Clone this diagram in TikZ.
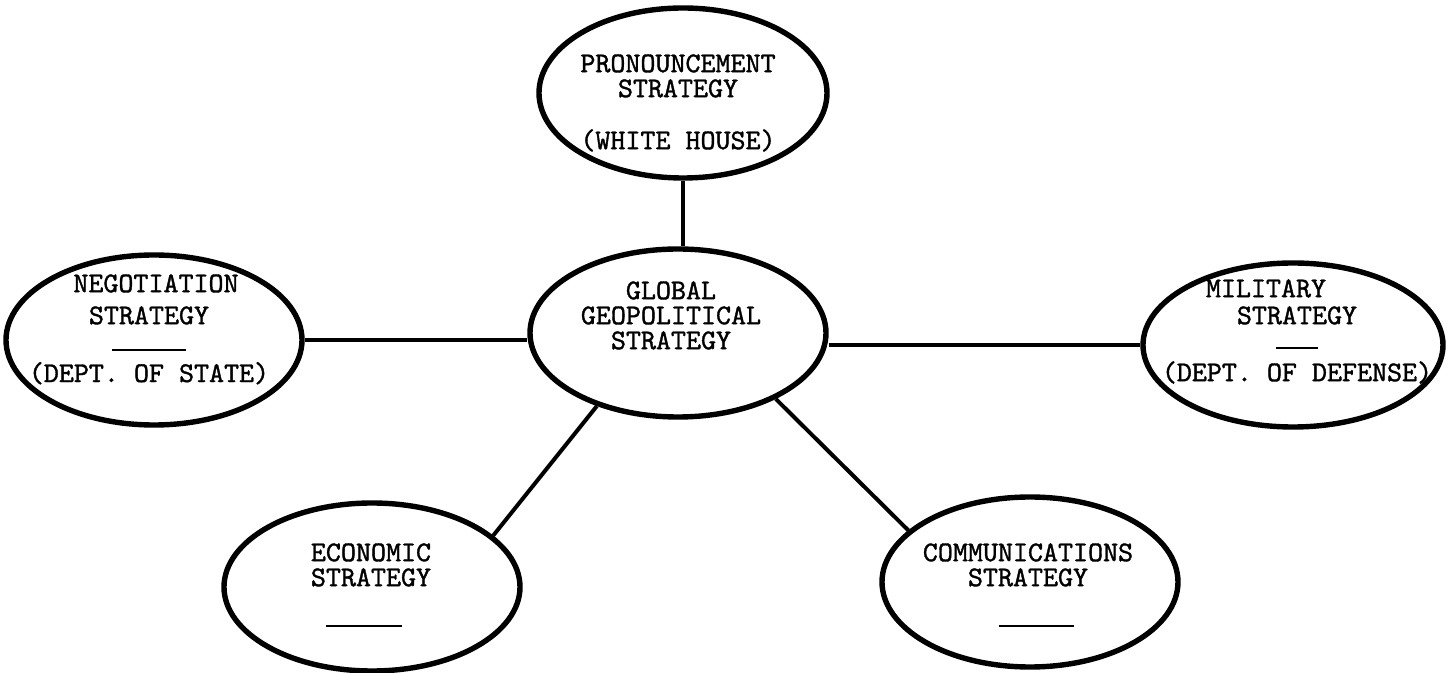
\documentclass[tikz,border=0pt]{standalone}
\usepackage{fontspec}
\newfontfamily\typer{lmmono10-regular.otf}[FakeBold=1.3]
\usetikzlibrary{shapes.geometric}
\begin{document}
\begin{tikzpicture}[x=0.5pt, y=-0.5pt,
    strat/.style={draw, ellipse, line width=2.7pt, minimum width=148pt, minimum height=84pt, inner sep=0pt},
    words/.style={font=\typer\fontsize{14.3}{12.5}\selectfont, align=center, anchor=north, inner sep=0pt},
    link/.style={line width=2pt}]
  \useasboundingbox (0,0) rectangle (1448,673);

  \node[strat, minimum width=144pt, minimum height=85pt] (pron) at (683,93) {};
  \node[strat] (glob) at (678,333) {};
  \node[strat, minimum height=85pt] (neg) at (154,340) {};
  \node[strat, minimum width=150pt, minimum height=82pt] (mil) at (1293,345) {};
  \node[strat] (econ) at (372,587) {};
  \node[strat, minimum height=85pt] (comm) at (1030,582) {};

  \node[words] (pronwords) at (678,54) {PRONOUNCEMENT\\STRATEGY\hspace*{8pt}\\[13.5pt](WHITE HOUSE)};
  \node[words] (globwords) at (671,281) {GLOBAL\\GEOPOLITICAL\\STRATEGY};
  \node[words] (negwords) at (149,274) {\hspace*{7pt}NEGOTIATION\\[3.5pt]STRATEGY\\[1pt]\rule{37pt}{1.3pt}\hspace*{9pt}\\[2.9pt](DEPT. OF STATE)};
  \node[words] (milwords) at (1297,279) {MILITARY\hspace*{31pt}\\[1pt]STRATEGY\hspace*{29pt}\\\rule{21pt}{1.3pt}\hspace*{4pt}\\[3.5pt](DEPT. OF DEFENSE)};
  \node[words] (econwords) at (371,543) {ECONOMIC\\STRATEGY\\[8.1pt]\rule{38pt}{1.3pt}\hspace*{7pt}};
  \node[words] (commwords) at (1028,543) {COMMUNICATIONS\\STRATEGY\\[8.1pt]\hspace*{8pt}\rule{37.5pt}{1.3pt}};

  \draw[link] (pron.south) -- (pron.south |- glob.north);
  \draw[link] (neg.east) -- (neg.east -| glob.west);
  \draw[link] (mil.west -| glob.east) -- (mil.west);
  \draw[link] (glob.222) -- (econ.23);
  \draw[link] (glob.326) -- (comm.157);
\end{tikzpicture}
\end{document}
